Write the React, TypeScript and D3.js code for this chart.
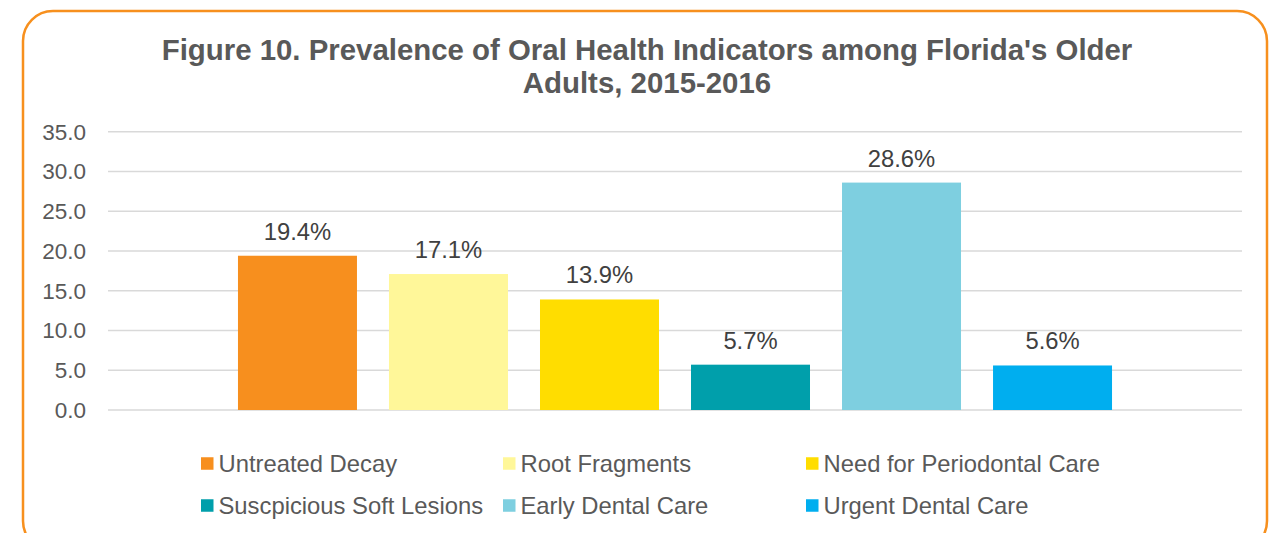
import React from "react";
import * as d3 from "d3";

const titleLines = ["Figure 10. Prevalence of Oral Health Indicators among Florida's Older", "Adults, 2015-2016"];
const seriesNames = [
  "Untreated Decay",
  "Root Fragments",
  "Need for Periodontal Care",
  "Suscpicious Soft Lesions",
  "Early Dental Care",
  "Urgent Dental Care",
];
const seriesValues = [19.4, 17.1, 13.9, 5.7, 28.6, 5.6];
const seriesColors = ["#F78F1E", "#FFF799", "#FFDD00", "#009FAB", "#7ECFE0", "#00AEEF"];
const yTicks = [0, 5, 10, 15, 20, 25, 30, 35];
const category = ["All"];

const W = 1270;
const H = 533;
const plotLeft = 108;
const plotRight = 1242;
const plotTop = 131.7;
const plotBottom = 410;
const textColor = "#595959";
const font = "Liberation Sans, Arial, sans-serif";

export default function App() {
  const y = d3.scaleLinear().domain([0, 35]).range([plotBottom, plotTop]);
  const x0 = d3.scaleBand().domain(category).range([plotLeft, plotRight]).paddingInner(0).paddingOuter(0.1487);
  const x1 = d3
    .scaleBand()
    .domain(seriesNames)
    .range([0, x0.bandwidth()])
    .paddingInner(0.212)
    .paddingOuter(0);

  const legendCols = [201, 503, 806];
  const legendRows = [463.5, 505.5];

  return (
    <div style={{ position: "absolute", left: 0, top: 0 }}>
      <svg width={W} height={H} style={{ display: "block", background: "#fff" }} fontFamily={font}>
        <rect x={23} y={11} width={1244} height={540} rx={30} ry={30} fill="#fff" stroke="#F7901E" strokeWidth={2.5} />
        {titleLines.map((t, i) => (
          <text key={i} x={647} y={60 + i * 33} textAnchor="middle" fontSize={29.4} fontWeight="bold" fill={textColor}>
            {t}
          </text>
        ))}
        {yTicks.map((t) => (
          <g key={t}>
            <line x1={plotLeft} x2={plotRight} y1={y(t)} y2={y(t)} stroke="#D9D9D9" strokeWidth={1.5} />
            <text x={86} y={y(t) + 8} textAnchor="end" fontSize={22.5} fill={textColor}>
              {d3.format(".1f")(t)}
            </text>
          </g>
        ))}
        {seriesNames.map((s, i) => {
          const bx = (x0("All") as number) + (x1(s) as number);
          const v = seriesValues[i];
          return (
            <g key={s}>
              <rect x={bx} y={y(v)} width={x1.bandwidth()} height={y(0) - y(v)} fill={seriesColors[i]} />
              <text x={bx + x1.bandwidth() / 2} y={y(v) - 16} textAnchor="middle" fontSize={23.8} fill="#404040">
                {d3.format(".1f")(v) + "%"}
              </text>
            </g>
          );
        })}
        {seriesNames.map((s, i) => {
          const cx = legendCols[i % 3];
          const cy = legendRows[Math.floor(i / 3)];
          return (
            <g key={"lg" + s}>
              <rect x={cx} y={cy - 6.25} width={12.5} height={12.5} fill={seriesColors[i]} />
              <text x={cx + 17.5} y={cy + 8} fontSize={23.8} fill={textColor}>
                {s}
              </text>
            </g>
          );
        })}
      </svg>
    </div>
  );
}
